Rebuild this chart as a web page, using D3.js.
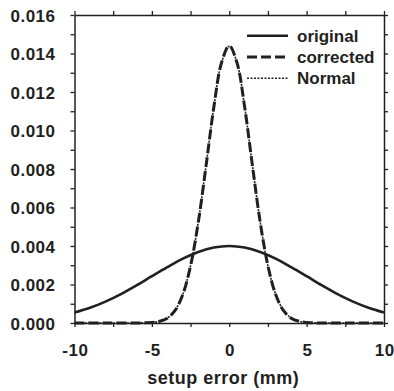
<!DOCTYPE html>
<html>
<head>
<meta charset="utf-8">
<script src="https://cdn.jsdelivr.net/npm/d3@7"></script>
<style>
  body { margin: 0; background: #fff; }
  text { font-family: "Liberation Sans", Arial, sans-serif; font-weight: bold; fill: #231f20; }
</style>
</head>
<body>
<div id="chart"></div>
<script>
// x values (mm) and curve values
let x_orig = [-10, -9, -8, -7, -6, -5, -4, -3, -2, -1, 0, 1, 2, 3, 4, 5, 6, 7, 8, 9, 10];
let y_orig = [0.00054, 0.00079, 0.00111, 0.00150, 0.00195, 0.00243, 0.00290, 0.00334, 0.00369, 0.00392, 0.00400,
              0.00392, 0.00369, 0.00334, 0.00290, 0.00243, 0.00195, 0.00150, 0.00111, 0.00079, 0.00054];

let x_corr = [-10, -8, -6, -5, -4.5, -4, -3.5, -3, -2.5, -2, -1.5, -1, -0.5, 0, 0.5, 1, 1.5, 2, 2.5, 3, 3.5, 4, 4.5, 5, 6, 8, 10];
let y_corr = [0, 0, 0, 0.00003, 0.00009, 0.00025, 0.00065, 0.00148, 0.00297, 0.00524, 0.00816, 0.01119, 0.01352, 0.01440,
              0.01352, 0.01119, 0.00816, 0.00524, 0.00297, 0.00148, 0.00065, 0.00025, 0.00009, 0.00003, 0, 0, 0];
let y_norm = [0, 0, 0, 0.00003, 0.00009, 0.00026, 0.00066, 0.00149, 0.00298, 0.00525, 0.00817, 0.01120, 0.01352, 0.01438,
              0.01352, 0.01120, 0.00817, 0.00525, 0.00298, 0.00149, 0.00066, 0.00026, 0.00009, 0.00003, 0, 0, 0];

let x_ticks = [-10, -7.5, -5, -2.5, 0, 2.5, 5, 7.5, 10];
let y_ticks = [0, 0.001, 0.002, 0.003, 0.004, 0.005, 0.006, 0.007, 0.008, 0.009, 0.010, 0.011, 0.012, 0.013, 0.014, 0.015, 0.016];
let legend_names = ['original', 'corrected', 'Normal'];

let svg_width = 394;
let svg_height = 391;
let m_left = 74.5, m_right = 384, m_top = 15, m_bottom = 323;

let svg = d3.select('#chart').append('svg')
    .attr('width', svg_width)
    .attr('height', svg_height);

let x = d3.scaleLinear().domain([-10, 10]).range([m_left, m_right]);
let y = d3.scaleLinear().domain([0, 0.016]).range([m_bottom, m_top]);

// curves
let series = [
  {xs: x_orig, ys: y_orig, width: 2.6, dash: null},
  {xs: x_corr, ys: y_corr, width: 3, dash: '10,4'},
  {xs: x_corr, ys: y_norm, width: 1.6, dash: '2,1.5'}
];

let line = d3.line()
    .x(d => x(d[0]))
    .y(d => y(d[1]))
    .curve(d3.curveCatmullRom);

series.forEach(function(s){
  svg.append('path')
     .datum(s.xs.map((v, i) => [v, s.ys[i]]))
     .attr('d', line)
     .attr('fill', 'none')
     .attr('stroke', '#231f20')
     .attr('stroke-width', s.width)
     .attr('stroke-dasharray', s.dash);
});

// axes
function style_axis(g){
  g.select('.domain').attr('stroke', '#231f20').attr('stroke-width', 1.5);
  g.selectAll('.tick line').attr('stroke', '#231f20').attr('stroke-width', 1.3);
  g.selectAll('text').attr('font-size', 17).attr('letter-spacing', '0.5px').attr('fill', '#231f20')
   .attr('font-family', '"Liberation Sans", Arial, sans-serif').attr('font-weight', 'bold');
}

svg.append('g')
   .attr('transform', 'translate(0,' + m_bottom + ')')
   .call(d3.axisBottom(x).tickValues(x_ticks).tickSize(4).tickSizeOuter(0).tickPadding(17)
         .tickFormat(d => d % 5 === 0 ? String(d) : ''))
   .call(style_axis)
   .selectAll('text').attr('dx', '0.3px');

svg.append('g')
   .attr('transform', 'translate(0,' + m_top + ')')
   .call(d3.axisTop(x).tickValues(x_ticks).tickSize(4).tickSizeOuter(0).tickFormat(''))
   .call(style_axis);

svg.append('g')
   .attr('transform', 'translate(' + m_left + ',0)')
   .call(d3.axisLeft(y).tickValues(y_ticks).tickSize(4).tickSizeOuter(0).tickPadding(15)
         .tickFormat(d => Math.round(d * 1000) % 2 === 0 ? d3.format('.3f')(d) : ''))
   .call(style_axis)
   .selectAll('text').attr('dy', '0.38em');

svg.append('g')
   .attr('transform', 'translate(' + m_right + ',0)')
   .call(d3.axisRight(y).tickValues(y_ticks).tickSize(4).tickSizeOuter(0).tickFormat(''))
   .call(style_axis);

// axis title
svg.append('text')
   .attr('x', (m_left + m_right) / 2 - 6)
   .attr('y', 384)
   .attr('text-anchor', 'middle')
   .attr('font-size', 18)
   .attr('letter-spacing', '0.5px')
   .text('setup error (mm)');

// legend
let legend = svg.selectAll('.legend')
    .data(series)
    .enter()
    .append('g')
    .attr('transform', (d, i) => 'translate(247,' + (35.7 + i * 21.3) + ')');

legend.append('line')
    .attr('x1', 0).attr('x2', 41)
    .attr('stroke', '#231f20')
    .attr('stroke-width', d => d.width)
    .attr('stroke-dasharray', d => d.dash);

legend.append('text')
    .attr('x', 50)
    .attr('y', 5.8)
    .attr('font-size', 17)
    .text((d, i) => legend_names[i]);
</script>
</body>
</html>
